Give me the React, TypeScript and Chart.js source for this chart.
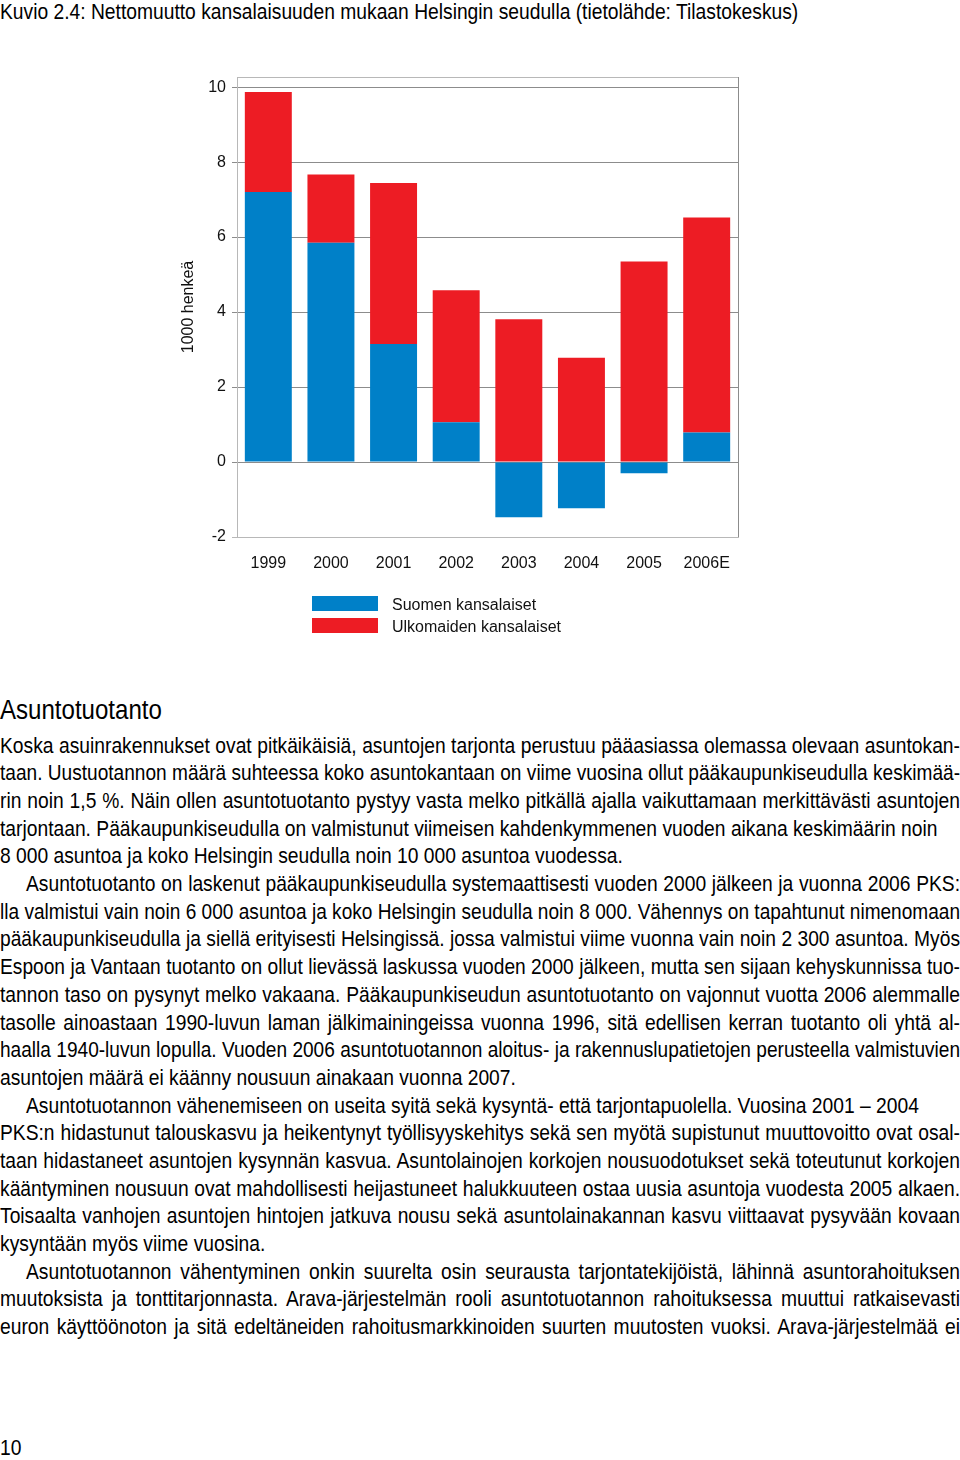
import React, { useEffect, useLayoutEffect, useRef, useState } from "react";
import { Chart, registerables } from "chart.js";

Chart.register(...registerables);

const categories = ["1999", "2000", "2001", "2002", "2003", "2004", "2005", "2006E"];
const suomenKansalaiset = [7.2, 5.85, 3.15, 1.06, -1.47, -1.23, -0.3, 0.79];
const ulkomaidenKansalaiset = [2.67, 1.82, 4.29, 3.52, 3.81, 2.78, 5.35, 5.73];
const yTickValues = [-2, 0, 2, 4, 6, 8, 10];
const seriesLabels = ["Suomen kansalaiset", "Ulkomaiden kansalaiset"];
const seriesColors = ["#0080c8", "#ed1c24"];

const figureTitle =
  "Kuvio 2.4: Nettomuutto kansalaisuuden mukaan Helsingin seudulla (tietolähde: Tilastokeskus)";
const yAxisTitle = "1000 henkeä";
const heading = "Asuntotuotanto";

// [text, justified, indented]
const bodyLines: [string, boolean, boolean][] = [
  ["Koska asuinrakennukset ovat pitkäikäisiä, asuntojen tarjonta perustuu pääasiassa olemassa olevaan asuntokan-", true, false],
  ["taan. Uustuotannon määrä suhteessa koko asuntokantaan on viime vuosina ollut pääkaupunkiseudulla keskimää-", true, false],
  ["rin noin 1,5 %. Näin ollen asuntotuotanto pystyy vasta melko pitkällä ajalla vaikuttamaan merkittävästi asuntojen", true, false],
  ["tarjontaan. Pääkaupunkiseudulla on valmistunut viimeisen kahdenkymmenen vuoden aikana keskimäärin noin", false, false],
  ["8 000 asuntoa ja koko Helsingin seudulla noin 10 000 asuntoa vuodessa.", false, false],
  ["Asuntotuotanto on laskenut pääkaupunkiseudulla systemaattisesti vuoden 2000 jälkeen ja vuonna 2006 PKS:", true, true],
  ["lla valmistui vain noin 6 000 asuntoa ja koko Helsingin seudulla noin 8 000. Vähennys on tapahtunut nimenomaan", true, false],
  ["pääkaupunkiseudulla ja siellä erityisesti Helsingissä. jossa valmistui viime vuonna vain noin 2 300 asuntoa. Myös", true, false],
  ["Espoon ja Vantaan tuotanto on ollut lievässä laskussa vuoden 2000 jälkeen, mutta sen sijaan kehyskunnissa tuo-", true, false],
  ["tannon taso on pysynyt melko vakaana. Pääkaupunkiseudun asuntotuotanto on vajonnut vuotta 2006 alemmalle", true, false],
  ["tasolle ainoastaan 1990-luvun laman jälkimainingeissa vuonna 1996, sitä edellisen kerran tuotanto oli yhtä al-", true, false],
  ["haalla 1940-luvun lopulla. Vuoden 2006 asuntotuotannon aloitus- ja rakennuslupatietojen perusteella valmistuvien", true, false],
  ["asuntojen määrä ei käänny nousuun ainakaan vuonna 2007.", false, false],
  ["Asuntotuotannon vähenemiseen on useita syitä sekä kysyntä- että tarjontapuolella. Vuosina 2001 – 2004", false, true],
  ["PKS:n hidastunut talouskasvu ja heikentynyt työllisyyskehitys sekä sen myötä supistunut muuttovoitto ovat osal-", true, false],
  ["taan hidastaneet asuntojen kysynnän kasvua. Asuntolainojen korkojen nousuodotukset sekä toteutunut korkojen", true, false],
  ["kääntyminen nousuun ovat mahdollisesti heijastuneet halukkuuteen ostaa uusia asuntoja vuodesta 2005 alkaen.", true, false],
  ["Toisaalta vanhojen asuntojen hintojen jatkuva nousu sekä asuntolainakannan kasvu viittaavat pysyvään kovaan", true, false],
  ["kysyntään myös viime vuosina.", false, false],
  ["Asuntotuotannon vähentyminen onkin suurelta osin seurausta tarjontatekijöistä, lähinnä asuntorahoituksen", true, true],
  ["muutoksista ja tonttitarjonnasta. Arava-järjestelmän rooli asuntotuotannon rahoituksessa muuttui ratkaisevasti", true, false],
  ["euron käyttöönoton ja sitä edeltäneiden rahoitusmarkkinoiden suurten muutosten vuoksi. Arava-järjestelmää ei", true, false],
];
const pageNumber = "10";

const SANS = '"Liberation Sans", Arial, sans-serif';
const K = 0.875; // horizontal condensing of the text face
const BODY_SIZE = 22;
const PAGE_W = 960;
const INDENT = 26;

const boxPlugin = {
  id: "plotBox",
  afterDraw(chart: any) {
    const { ctx, chartArea } = chart;
    const { left, right, top, bottom } = chartArea;
    ctx.save();
    ctx.lineWidth = 1;
    ctx.strokeStyle = "#b8b8b8";
    ctx.beginPath();
    ctx.moveTo(left, top + 0.5);
    ctx.lineTo(right, top + 0.5);
    ctx.stroke();
    ctx.strokeStyle = "#8c8c8c";
    ctx.beginPath();
    ctx.moveTo(right + 0.5, top);
    ctx.lineTo(right + 0.5, bottom);
    ctx.stroke();
    ctx.restore();
  },
};

function ChartCanvas() {
  const ref = useRef<HTMLCanvasElement | null>(null);
  useEffect(() => {
    if (!ref.current) return;
    const chart = new Chart(ref.current, {
      type: "bar",
      data: {
        labels: categories,
        datasets: [
          {
            label: seriesLabels[0],
            data: suomenKansalaiset,
            backgroundColor: seriesColors[0],
            borderWidth: 0,
          },
          {
            label: seriesLabels[1],
            data: ulkomaidenKansalaiset,
            backgroundColor: seriesColors[1],
            borderWidth: 0,
          },
        ],
      },
      plugins: [boxPlugin],
      options: {
        animation: false,
        responsive: false,
        maintainAspectRatio: false,
        layout: { padding: { left: 0, right: 222, top: 37, bottom: 0 } },
        plugins: {
          legend: { display: false },
          tooltip: { enabled: false },
          title: { display: false },
        },
        datasets: {
          bar: { barPercentage: 0.75, categoryPercentage: 1 },
        },
        scales: {
          x: {
            stacked: true,
            grid: { display: false, drawTicks: false },
            border: { display: true, color: "#b8b8b8" },
            ticks: {
              color: "#111",
              font: { family: SANS, size: 16 },
              padding: 17,
              maxRotation: 0,
            },
            afterFit(scale: any) {
              scale.height = 63;
            },
          },
          y: {
            stacked: true,
            min: -2,
            max: 10.27,
            afterBuildTicks(scale: any) {
              scale.ticks = yTickValues.map((v) => ({ value: v }));
            },
            afterFit(scale: any) {
              scale.width = 237;
            },
            grid: {
              color: (c: any) => (c.tick && c.tick.value === -2 ? "#b8b8b8" : "#8c8c8c"),
              tickLength: 5,
              lineWidth: 1,
            },
            border: { display: true, color: "#b8b8b8" },
            ticks: {
              color: "#111",
              font: { family: SANS, size: 16 },
              padding: 6,
            },
            title: {
              display: true,
              text: yAxisTitle,
              color: "#111",
              font: { family: SANS, size: 16 },
              padding: { top: 179, bottom: 0 },
            },
          },
        },
      },
    });
    return () => chart.destroy();
  }, []);
  return (
    <canvas
      ref={ref}
      width={960}
      height={560}
      style={{ position: "absolute", left: 0, top: 40, width: 960, height: 560 }}
    />
  );
}

function Narrow({ children, style }: { children: React.ReactNode; style: React.CSSProperties }) {
  return (
    <div
      style={{
        position: "absolute",
        left: 0,
        whiteSpace: "nowrap",
        fontFamily: SANS,
        transform: `scaleX(${K})`,
        transformOrigin: "0 0",
        ...style,
      }}
    >
      {children}
    </div>
  );
}

function BodyLine({ text, just, indent, lineH }: { text: string; just: boolean; indent: boolean; lineH: number }) {
  const [k, setK] = useState(K);
  useLayoutEffect(() => {
    const c = document.createElement("canvas").getContext("2d");
    if (!c) return;
    c.font = `${BODY_SIZE}px "Liberation Sans"`;
    const w = c.measureText(text).width;
    const avail = PAGE_W - (indent ? INDENT : 0) - 1;
    setK(Math.min(K, avail / w));
  }, [text, indent]);
  return (
    <div
      style={{
        height: lineH,
        width: PAGE_W / k,
        lineHeight: lineH + "px",
        fontFamily: SANS,
        fontSize: BODY_SIZE,
        whiteSpace: "nowrap",
        textAlign: just ? "justify" : "left",
        textAlignLast: just ? "justify" : "left",
        paddingLeft: indent ? INDENT / k : 0,
        boxSizing: "border-box",
        transform: `scaleX(${k})`,
        transformOrigin: "0 0",
      }}
    >
      {text}
    </div>
  );
}

export default function App() {
  const lineH = 27.7;
  const firstTop = 745.5 - lineH / 2;
  return (
    <div
      style={{
        position: "absolute",
        left: 0,
        top: 0,
        width: 960,
        height: 1460,
        background: "#fff",
        color: "#000",
        overflow: "hidden",
      }}
    >
      <Narrow style={{ top: -1, fontSize: 22, lineHeight: "26px" }}>{figureTitle}</Narrow>
      <ChartCanvas />
      <div style={{ position: "absolute", left: 312, top: 596, fontFamily: SANS, fontSize: 16, color: "#111" }}>
        {seriesLabels.map((lab, i) => (
          <div key={lab} style={{ position: "absolute", left: 0, top: i * 22, height: 15, whiteSpace: "nowrap" }}>
            <div style={{ position: "absolute", left: 0, top: 0, width: 66, height: 15, background: seriesColors[i] }} />
            <div style={{ position: "absolute", left: 80, top: -1, lineHeight: "19px" }}>{lab}</div>
          </div>
        ))}
      </div>
      <Narrow style={{ top: 694, fontSize: 27.5, lineHeight: "32px" }}>{heading}</Narrow>
      <div style={{ position: "absolute", left: 0, top: firstTop, width: 960 }}>
        {bodyLines.map(([t, just, indent], i) => (
          <BodyLine key={i} text={t} just={just} indent={indent} lineH={lineH} />
        ))}
      </div>
      <Narrow style={{ top: 1434, fontSize: 22, lineHeight: "28px" }}>{pageNumber}</Narrow>
    </div>
  );
}
